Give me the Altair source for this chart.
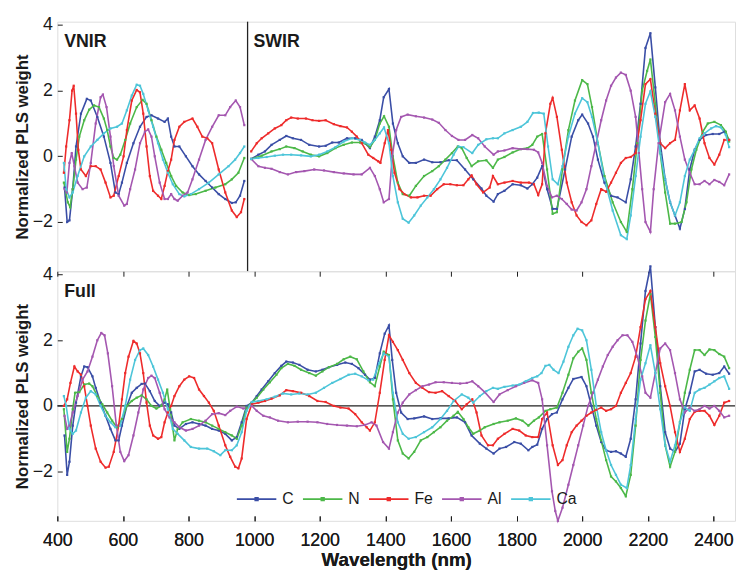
import altair as alt
import pandas as pd

FONT = "Liberation Sans"
ELEMENTS = ["C", "N", "Fe", "Al", "Ca"]
COLORS = ["#3a4ea6", "#4cb848", "#ee2b2b", "#a457b0", "#4dc5d9"]
X_TICKS = [400, 600, 800, 1000, 1200, 1400, 1600, 1800, 2000, 2200, 2400]
Y_TICKS = [-2, 0, 2, 4]
X_DOMAIN = [400, 2466]
Y_DOMAIN = [-3.5, 4.1]
DIVIDER = [980]
ZERO = [0]

PANEL_LABELS = ["VNIR", "SWIR"]
PANEL_LABEL_X = [421, 998]
PANEL_LABEL_Y = [3.48, 3.48]
FULL_LABEL = ["Full"]
FULL_LABEL_X = [421]
FULL_LABEL_Y = [3.48]

# ---- VNIR model (top panel, left) ----
VNIR_C = [(422,-0.95),(430,-2.0),(437,-1.95),(447,-1.0),(457,0.3),(472,1.3),(490,1.75),(502,1.7),(522,1.2),(542,0.6),(562,-0.2),(577,-1.1),(587,-1.15),(597,-0.8),(612,-0.2),(632,0.4),(652,0.9),(672,1.2),(687,1.25),(707,1.15),(727,1.05),(737,1.15),(747,0.6),(757,0.3),(772,0.3),(792,0.0),(812,-0.3),(832,-0.55),(852,-0.75),(872,-0.95),(892,-1.15),(912,-1.3),(932,-1.42),(944,-1.4),(957,-1.2),(970,-0.75)]
VNIR_N = [(420,-0.8),(432,-1.4),(439,-1.55),(447,-1.0),(457,-0.1),(467,0.6),(482,1.1),(497,1.42),(512,1.55),(527,1.5),(542,1.15),(552,0.8),(562,0.3),(572,-0.05),(582,-0.1),(592,0.05),(607,0.5),(622,1.0),(642,1.5),(660,1.72),(672,1.6),(687,1.1),(702,0.6),(717,0.2),(732,-0.2),(747,-0.6),(762,-0.9),(782,-1.1),(802,-1.18),(822,-1.15),(852,-1.05),(882,-0.95),(912,-0.85),(932,-0.7),(952,-0.5),(970,-0.05)]
VNIR_FE = [(420,-0.5),(427,0.3),(437,1.1),(445,2.0),(450,2.15),(457,1.3),(464,0.2),(472,-0.4),(487,-0.6),(502,-0.3),(517,-0.3),(532,-0.4),(547,-0.8),(562,-1.25),(572,-1.2),(587,-0.6),(602,0.0),(612,0.8),(627,1.7),(642,2.02),(652,1.95),(662,1.3),(672,0.3),(682,-0.6),(692,-1.05),(707,-1.2),(717,-1.3),(727,-0.9),(737,-0.45),(747,-0.1),(757,0.5),(772,0.9),(787,1.05),(812,1.15),(827,0.9),(842,0.6),(857,0.55),(872,0.4),(892,-0.4),(912,-1.1),(932,-1.65),(947,-1.85),(960,-1.7),(970,-1.3)]
VNIR_AL = [(422,-1.0),(429,-1.1),(437,-0.2),(444,0.1),(452,-0.3),(462,-0.8),(477,-1.0),(490,-0.95),(502,-0.2),(517,1.0),(532,1.8),(539,1.88),(550,1.5),(562,0.6),(572,-0.3),(587,-1.2),(604,-1.5),(612,-1.45),(622,-1.0),(637,-0.4),(652,0.4),(667,0.75),(677,0.82),(687,0.6),(697,0.0),(712,-0.8),(727,-1.3),(737,-1.3),(747,-1.15),(757,-1.3),(767,-1.35),(782,-1.2),(797,-1.1),(812,-0.7),(832,-0.1),(852,0.5),(872,0.9),(892,1.25),(912,1.25),(927,1.5),(944,1.7),(957,1.5),(970,0.95)]
VNIR_CA = [(420,-0.2),(427,-1.0),(437,-1.25),(447,-1.1),(462,-0.6),(482,0.0),(502,0.3),(522,0.5),(542,0.7),(562,0.85),(582,0.9),(597,1.0),(612,1.4),(627,1.85),(642,2.18),(652,2.15),(662,1.9),(677,1.4),(692,0.9),(707,0.4),(722,-0.1),(737,-0.5),(752,-0.85),(772,-1.15),(787,-1.22),(807,-1.15),(832,-1.0),(862,-0.8),(892,-0.55),(922,-0.3),(942,-0.1),(957,0.1),(970,0.3)]

# ---- SWIR model (top panel, right) ----
SWIR_C = [(991,-0.08),(1013,0.05),(1033,0.15),(1053,0.35),(1078,0.5),(1098,0.62),(1118,0.55),(1143,0.5),(1168,0.35),(1198,0.3),(1218,0.32),(1238,0.42),(1258,0.42),(1283,0.55),(1308,0.55),(1328,0.5),(1338,0.4),(1353,0.25),(1368,0.6),(1383,1.1),(1395,1.8),(1411,2.05),(1423,1.0),(1438,0.4),(1453,0.0),(1473,-0.2),(1493,-0.2),(1518,-0.1),(1543,-0.18),(1568,-0.18),(1593,-0.12),(1618,-0.12),(1643,-0.4),(1668,-0.7),(1693,-0.98),(1708,-1.2),(1730,-1.38),(1743,-1.15),(1763,-1.05),(1788,-0.85),(1813,-0.88),(1833,-0.98),(1848,-0.85),(1863,-0.65),(1878,-0.3),(1893,-1.0),(1910,-1.6),(1923,-1.6),(1948,-0.4),(1968,0.6),(1988,1.1),(2000,1.27),(2018,1.0),(2033,0.6),(2048,-0.1),(2068,-0.8),(2088,-1.2),(2108,-1.25),(2133,-1.4),(2148,-0.7),(2163,0.3),(2178,1.6),(2193,3.3),(2208,3.75),(2223,2.1),(2238,0.4),(2253,-0.7),(2268,-1.4),(2283,-1.8),(2298,-2.2),(2313,-1.6),(2328,-0.4),(2343,0.2),(2358,0.5),(2378,0.65),(2398,0.68),(2418,0.68),(2433,0.75),(2448,0.5)]
SWIR_N = [(991,-0.08),(1023,0.02),(1053,0.15),(1078,0.22),(1098,0.3),(1123,0.25),(1148,0.15),(1173,0.05),(1198,0.0),(1223,0.1),(1248,0.25),(1273,0.35),(1298,0.42),(1323,0.42),(1338,0.4),(1353,0.28),(1368,0.5),(1383,1.0),(1396,1.22),(1411,0.9),(1423,0.0),(1438,-0.8),(1453,-1.15),(1473,-1.2),(1493,-0.9),(1518,-0.6),(1543,-0.45),(1563,-0.3),(1583,-0.1),(1603,0.1),(1621,0.3),(1633,0.25),(1648,-0.05),(1663,-0.3),(1683,-0.15),(1708,-0.12),(1728,-0.35),(1743,-0.1),(1763,-0.02),(1788,0.12),(1813,0.22),(1833,0.25),(1848,0.35),(1863,0.6),(1878,0.68),(1893,-0.4),(1910,-1.75),(1923,-1.7),(1940,-0.4),(1958,0.8),(1978,1.7),(2000,2.32),(2016,2.2),(2030,1.5),(2048,0.4),(2068,-0.6),(2093,-1.4),(2118,-2.0),(2136,-2.3),(2153,-1.0),(2168,0.4),(2183,2.0),(2198,2.6),(2208,2.95),(2223,1.6),(2238,0.1),(2253,-1.1),(2268,-2.05),(2283,-2.05),(2303,-2.0),(2318,-1.4),(2333,-0.4),(2348,0.2),(2368,0.75),(2383,1.0),(2403,1.05),(2423,0.95),(2438,0.75),(2448,0.45)]
SWIR_FE = [(991,0.15),(1008,0.4),(1023,0.55),(1043,0.7),(1063,0.85),(1083,0.95),(1098,1.1),(1113,1.18),(1133,1.15),(1158,1.15),(1178,1.1),(1198,1.08),(1218,1.1),(1243,0.98),(1263,0.92),(1283,0.88),(1298,0.75),(1313,0.6),(1328,0.4),(1348,0.05),(1363,-0.05),(1378,-0.15),(1385,-0.2),(1398,0.4),(1408,0.8),(1418,0.2),(1428,-0.5),(1443,-1.0),(1458,-1.15),(1478,-1.25),(1498,-1.25),(1518,-1.2),(1538,-1.2),(1558,-1.0),(1578,-0.85),(1598,-0.85),(1618,-0.88),(1638,-0.88),(1653,-0.7),(1663,-0.58),(1678,-0.85),(1698,-1.1),(1718,-0.95),(1728,-0.6),(1743,-0.85),(1763,-0.8),(1788,-0.75),(1813,-0.8),(1838,-0.8),(1853,-0.85),(1866,-1.18),(1878,-0.85),(1888,0.7),(1903,1.6),(1910,1.78),(1923,1.2),(1938,0.2),(1953,-0.8),(1968,-1.4),(1983,-1.8),(1998,-2.0),(2013,-2.1),(2028,-1.95),(2043,-1.45),(2058,-1.0),(2073,-1.08),(2088,-0.8),(2103,-0.5),(2118,-0.2),(2133,-0.05),(2148,-0.02),(2163,0.1),(2178,1.1),(2193,2.2),(2208,2.35),(2223,1.3),(2238,0.4),(2253,0.25),(2268,0.4),(2283,0.5),(2298,1.4),(2313,2.2),(2328,1.4),(2343,1.55),(2358,1.15),(2373,0.4),(2388,-0.05),(2403,-0.25),(2418,0.05),(2433,0.5),(2448,0.5)]
SWIR_AL = [(991,-0.08),(1013,-0.3),(1033,-0.35),(1053,-0.38),(1078,-0.48),(1103,-0.55),(1128,-0.48),(1153,-0.45),(1183,-0.4),(1213,-0.43),(1243,-0.48),(1273,-0.52),(1303,-0.55),(1328,-0.55),(1353,-0.35),(1368,-0.6),(1383,-1.0),(1395,-1.4),(1411,-1.3),(1421,0.0),(1433,0.8),(1448,1.2),(1468,1.27),(1493,1.22),(1518,1.18),(1543,1.12),(1563,1.02),(1583,0.8),(1603,0.62),(1623,0.5),(1643,0.5),(1665,0.65),(1683,0.55),(1703,0.3),(1730,0.05),(1743,0.15),(1763,0.18),(1788,0.25),(1813,0.22),(1833,0.22),(1853,0.2),(1866,0.12),(1878,-0.2),(1893,-0.9),(1908,-1.25),(1923,-1.2),(1938,-1.3),(1953,-1.45),(1968,-1.62),(1983,-1.65),(1998,-1.4),(2013,-1.0),(2028,-0.3),(2043,0.4),(2058,1.1),(2073,1.7),(2088,2.15),(2103,2.4),(2118,2.55),(2133,2.48),(2148,2.0),(2163,1.2),(2173,0.1),(2183,-1.0),(2193,-2.0),(2208,-2.3),(2218,-1.0),(2233,0.4),(2253,1.65),(2268,1.9),(2283,1.4),(2298,0.6),(2313,-0.1),(2328,-0.5),(2343,-0.85),(2358,-0.85),(2373,-0.75),(2388,-0.85),(2403,-0.72),(2418,-0.78),(2433,-0.88),(2448,-0.55)]
SWIR_CA = [(991,-0.08),(1013,-0.05),(1038,-0.02),(1063,0.02),(1088,0.05),(1113,0.05),(1143,0.03),(1173,0.0),(1198,0.05),(1223,0.15),(1248,0.28),(1273,0.45),(1298,0.55),(1323,0.5),(1338,0.42),(1353,0.35),(1368,0.5),(1383,0.7),(1396,0.88),(1411,0.4),(1423,-0.6),(1438,-1.4),(1453,-1.9),(1471,-2.02),(1488,-1.8),(1508,-1.5),(1528,-1.25),(1548,-1.0),(1568,-0.7),(1588,-0.35),(1608,0.05),(1623,0.3),(1638,0.28),(1665,0.1),(1683,0.35),(1708,0.52),(1728,0.55),(1743,0.55),(1763,0.7),(1788,0.8),(1813,0.9),(1833,1.05),(1850,1.32),(1868,1.33),(1883,1.3),(1896,0.3),(1910,-0.7),(1926,-0.85),(1940,-0.3),(1958,0.6),(1978,1.3),(2000,1.77),(2016,1.65),(2030,1.2),(2048,0.4),(2068,-0.7),(2093,-1.65),(2118,-2.4),(2136,-2.52),(2148,-1.8),(2163,-0.6),(2178,0.6),(2193,1.6),(2208,1.98),(2223,1.2),(2238,0.1),(2253,-0.7),(2268,-1.4),(2283,-1.8),(2298,-1.4),(2313,-0.6),(2328,-0.1),(2343,0.2),(2358,0.55),(2373,0.7),(2393,0.85),(2408,0.92),(2423,0.88),(2438,0.65),(2448,0.28)]

# ---- Full-range model (bottom panel) ----
FULL_C = [(422,-0.9),(430,-2.1),(437,-1.7),(447,-0.6),(457,0.1),(472,0.9),(482,1.2),(492,1.18),(507,0.9),(517,0.55),(532,0.1),(547,-0.3),(562,-0.7),(577,-1.05),(587,-1.05),(597,-0.6),(612,0.0),(627,0.4),(642,0.55),(657,0.67),(667,0.68),(682,0.45),(697,0.15),(712,0.0),(727,0.1),(737,0.05),(747,-0.2),(757,-0.6),(772,-0.7),(792,-0.55),(812,-0.5),(832,-0.55),(852,-0.6),(872,-0.7),(892,-0.75),(912,-0.85),(932,-1.05),(947,-0.95),(962,-0.5),(977,0.0),(993,0.1),(1008,0.3),(1023,0.5),(1043,0.75),(1063,1.0),(1083,1.22),(1098,1.35),(1118,1.32),(1138,1.25),(1163,1.1),(1188,1.05),(1208,1.1),(1228,1.18),(1253,1.25),(1278,1.32),(1298,1.28),(1318,1.15),(1338,0.95),(1353,0.8),(1368,0.85),(1383,1.6),(1398,2.2),(1411,2.45),(1421,1.4),(1433,0.4),(1448,-0.2),(1468,-0.4),(1488,-0.38),(1518,-0.32),(1543,-0.4),(1568,-0.38),(1593,-0.38),(1618,-0.35),(1643,-0.5),(1663,-0.9),(1688,-1.15),(1708,-1.3),(1730,-1.45),(1748,-1.3),(1768,-1.25),(1793,-1.1),(1813,-1.15),(1836,-1.35),(1848,-1.25),(1863,-1.18),(1878,-0.7),(1893,-0.4),(1908,-0.25),(1923,-0.2),(1940,0.2),(1958,0.55),(1973,0.82),(1998,0.88),(2013,0.6),(2028,0.0),(2043,-0.6),(2058,-1.1),(2073,-1.35),(2088,-1.4),(2103,-1.38),(2118,-1.45),(2133,-1.55),(2148,-1.0),(2163,0.2),(2178,1.9),(2193,3.5),(2208,4.25),(2223,2.4),(2238,0.6),(2253,-0.8),(2268,-1.3),(2283,-1.4),(2298,-1.15),(2313,-0.1),(2328,0.4),(2343,1.05),(2358,1.1),(2378,0.98),(2398,0.95),(2418,1.0),(2433,1.2),(2448,0.98)]
FULL_N = [(420,-0.1),(430,-1.4),(437,-1.0),(447,-0.1),(454,0.4),(467,0.42),(482,0.65),(497,0.68),(507,0.6),(522,0.3),(537,0.05),(552,-0.2),(567,-0.45),(582,-0.65),(597,-0.4),(612,0.0),(627,0.15),(642,0.25),(657,0.32),(672,0.2),(687,0.0),(702,-0.08),(717,0.0),(727,0.2),(735,0.5),(744,-0.1),(757,-1.05),(767,-0.7),(782,-0.5),(807,-0.4),(832,-0.45),(852,-0.5),(872,-0.6),(892,-0.7),(912,-0.8),(932,-0.9),(947,-1.0),(962,-0.6),(977,-0.05),(993,0.1),(1008,0.25),(1028,0.5),(1048,0.72),(1068,0.95),(1083,1.15),(1103,1.28),(1123,1.22),(1143,1.1),(1168,1.0),(1188,0.92),(1208,1.05),(1228,1.18),(1253,1.28),(1273,1.42),(1293,1.5),(1313,1.42),(1333,1.05),(1353,0.72),(1368,0.6),(1383,1.2),(1395,1.65),(1411,1.55),(1423,0.2),(1438,-1.05),(1453,-1.45),(1471,-1.6),(1488,-1.4),(1508,-1.05),(1528,-0.95),(1548,-0.8),(1568,-0.65),(1588,-0.45),(1608,-0.3),(1621,-0.18),(1638,-0.4),(1653,-0.65),(1668,-0.85),(1688,-0.75),(1703,-0.65),(1730,-0.55),(1748,-0.5),(1773,-0.45),(1798,-0.38),(1818,-0.45),(1836,-0.6),(1853,-0.45),(1868,-0.35),(1888,-0.15),(1903,-0.1),(1923,-0.05),(1940,0.4),(1958,0.95),(1973,1.45),(1988,1.65),(2000,1.75),(2013,1.4),(2028,0.4),(2043,-0.4),(2058,-1.05),(2073,-1.65),(2088,-2.15),(2103,-2.3),(2118,-2.5),(2133,-2.75),(2148,-2.1),(2163,-0.6),(2178,1.4),(2193,2.6),(2208,3.4),(2223,2.1),(2238,0.4),(2253,-1.2),(2268,-1.85),(2283,-1.4),(2298,-0.5),(2313,0.4),(2328,1.1),(2343,1.7),(2358,1.7),(2373,1.55),(2388,1.72),(2403,1.7),(2418,1.58),(2433,1.5),(2448,1.15)]
FULL_FE = [(420,0.0),(430,0.2),(440,0.7),(452,1.2),(462,1.05),(472,0.95),(482,0.6),(492,0.0),(502,-0.6),(517,-1.3),(532,-1.7),(547,-1.88),(557,-1.85),(572,-1.4),(587,-0.6),(597,0.2),(607,1.0),(617,1.5),(632,1.98),(642,1.9),(652,1.6),(662,1.0),(672,0.1),(682,-0.6),(692,-0.9),(707,-1.0),(717,-0.95),(727,-0.5),(737,-0.2),(747,0.0),(757,0.3),(772,0.6),(787,0.8),(802,0.9),(817,0.85),(832,0.5),(847,0.3),(862,0.1),(877,-0.15),(892,-0.6),(912,-1.2),(927,-1.55),(942,-1.85),(952,-1.9),(962,-1.6),(977,-0.4),(993,0.05),(1013,0.1),(1033,0.15),(1053,0.22),(1078,0.32),(1098,0.48),(1118,0.45),(1143,0.4),(1168,0.3),(1193,0.15),(1218,0.12),(1243,0.0),(1263,-0.05),(1288,-0.08),(1308,-0.25),(1328,-0.5),(1343,-0.65),(1353,-0.75),(1368,-0.5),(1383,0.4),(1398,1.4),(1411,2.15),(1423,1.95),(1438,1.7),(1453,1.4),(1473,1.0),(1493,0.7),(1513,0.55),(1533,0.42),(1553,0.4),(1573,0.45),(1593,0.3),(1613,0.15),(1633,-0.1),(1648,0.05),(1665,0.2),(1678,-0.2),(1693,-0.9),(1713,-1.2),(1728,-1.2),(1743,-1.0),(1763,-0.85),(1788,-0.7),(1808,-0.75),(1828,-0.9),(1848,-0.95),(1866,-0.95),(1878,-0.4),(1893,-0.2),(1910,-1.2),(1926,-1.8),(1940,-1.65),(1953,-1.2),(1968,-0.8),(1983,-0.6),(1998,-0.45),(2013,-0.3),(2028,-0.2),(2043,-0.12),(2058,-0.05),(2073,-0.15),(2088,-0.1),(2103,0.0),(2118,0.4),(2133,0.7),(2148,1.0),(2163,1.5),(2178,2.4),(2193,3.25),(2208,3.5),(2223,2.4),(2238,1.3),(2253,0.6),(2268,0.0),(2283,-0.8),(2298,-1.4),(2313,-1.0),(2328,-0.4),(2343,-0.18),(2358,-0.15),(2373,-0.15),(2388,-0.3),(2403,-0.58),(2418,-0.3),(2433,0.1),(2448,0.15)]
FULL_AL = [(422,-0.3),(430,-0.7),(437,-0.6),(447,-0.2),(462,0.3),(477,0.8),(492,1.05),(507,1.5),(522,2.0),(534,2.22),(544,2.15),(554,1.6),(567,0.6),(580,-0.6),(592,-1.4),(604,-1.68),(617,-1.5),(632,-0.9),(647,-0.2),(662,0.5),(677,0.85),(687,0.92),(697,0.85),(712,0.4),(727,-0.1),(742,-0.35),(757,-0.5),(772,-0.65),(792,-0.75),(812,-0.7),(832,-0.6),(852,-0.45),(872,-0.25),(892,-0.22),(912,-0.28),(927,-0.15),(947,-0.02),(967,-0.08),(993,0.0),(1008,-0.15),(1028,-0.3),(1048,-0.35),(1073,-0.45),(1103,-0.5),(1133,-0.48),(1163,-0.48),(1193,-0.5),(1223,-0.55),(1253,-0.58),(1283,-0.6),(1313,-0.62),(1338,-0.58),(1358,-0.5),(1373,-0.6),(1393,-1.1),(1411,-1.3),(1423,-0.8),(1438,-0.2),(1453,0.1),(1473,0.35),(1493,0.48),(1513,0.6),(1533,0.65),(1553,0.72),(1578,0.72),(1603,0.7),(1628,0.68),(1648,0.7),(1665,0.75),(1683,0.6),(1703,0.42),(1730,0.12),(1748,0.35),(1773,0.48),(1798,0.6),(1823,0.7),(1848,0.78),(1866,0.7),(1878,0.2),(1893,-1.2),(1908,-2.6),(1918,-3.2),(1926,-3.5),(1940,-3.1),(1958,-2.4),(1973,-1.8),(1988,-1.2),(2003,-0.6),(2018,0.0),(2033,0.4),(2048,0.8),(2063,1.2),(2078,1.55),(2093,1.8),(2108,2.0),(2123,2.15),(2138,2.15),(2153,1.95),(2168,1.5),(2183,0.9),(2193,0.4),(2208,0.25),(2223,1.0),(2238,1.75),(2253,1.9),(2268,1.7),(2283,1.0),(2298,0.2),(2313,-0.2),(2328,-0.05),(2343,-0.15),(2358,-0.1),(2373,0.0),(2388,-0.08),(2403,0.0),(2418,-0.15),(2433,-0.35),(2448,-0.3)]
FULL_CA = [(420,0.3),(427,0.0),(437,-0.7),(447,-0.85),(457,-0.75),(472,-0.2),(487,0.25),(502,0.45),(517,0.35),(532,0.0),(547,-0.3),(562,-0.5),(577,-0.65),(592,-0.6),(607,0.0),(622,0.8),(637,1.4),(652,1.7),(662,1.75),(677,1.55),(692,1.2),(707,0.8),(722,0.4),(737,-0.1),(752,-0.7),(767,-0.85),(787,-1.05),(807,-1.25),(832,-1.3),(857,-1.3),(877,-1.38),(897,-1.5),(912,-1.35),(932,-1.35),(947,-1.2),(962,-0.8),(977,-0.15),(993,0.12),(1013,0.15),(1038,0.2),(1063,0.28),(1088,0.38),(1113,0.35),(1138,0.38),(1163,0.35),(1188,0.4),(1213,0.55),(1238,0.7),(1263,0.82),(1288,0.95),(1308,0.98),(1328,0.9),(1348,0.78),(1363,0.8),(1381,1.3),(1395,1.6),(1411,1.5),(1423,0.4),(1438,-0.5),(1453,-0.85),(1471,-1.0),(1493,-0.95),(1518,-0.8),(1543,-0.65),(1568,-0.4),(1588,-0.15),(1608,0.15),(1633,0.35),(1653,0.25),(1668,0.1),(1688,0.3),(1708,0.45),(1728,0.55),(1743,0.52),(1763,0.58),(1788,0.62),(1808,0.65),(1828,0.75),(1848,0.85),(1863,0.9),(1876,1.0),(1888,1.22),(1900,1.25),(1913,1.1),(1928,1.0),(1943,1.35),(1958,1.8),(1973,2.15),(1986,2.35),(2000,2.3),(2013,2.0),(2028,1.1),(2043,0.0),(2058,-0.8),(2073,-1.35),(2088,-1.8),(2103,-2.1),(2118,-2.4),(2136,-2.5),(2148,-1.8),(2163,-0.4),(2178,0.8),(2193,1.3),(2208,1.85),(2223,1.0),(2238,-0.1),(2253,-1.2),(2268,-1.7),(2283,-1.2),(2298,-0.5),(2313,-0.05),(2328,-0.15),(2343,0.4),(2358,0.5),(2373,0.55),(2388,0.65),(2403,0.75),(2418,0.85),(2433,0.9),(2448,0.52)]

SERIES = {
    "VNIR": [VNIR_C, VNIR_N, VNIR_FE, VNIR_AL, VNIR_CA],
    "SWIR": [SWIR_C, SWIR_N, SWIR_FE, SWIR_AL, SWIR_CA],
    "Full": [FULL_C, FULL_N, FULL_FE, FULL_AL, FULL_CA],
}

rows = []
for region, lists in SERIES.items():
    for k, (el, pts) in enumerate(zip(ELEMENTS, lists)):
        for i, (w, v) in enumerate(pts):
            rows.append({"wl": w, "val": v, "element": el, "order": k,
                         "region": region, "idx": i})
df = pd.DataFrame(rows)
df_top = df[df.region != "Full"]
df_bot = df[df.region == "Full"]

TXT = "#1a1a1a"
LEGEND_SYMBOL = "M-1,0H1M-0.07,-0.07H0.07V0.07H-0.07Z"

xscale = alt.Scale(domain=X_DOMAIN, nice=False, zero=False)
yscale = alt.Scale(domain=Y_DOMAIN, nice=False, zero=False)

Y_AXIS = alt.Axis(values=Y_TICKS, title="Normalized PLS weight", orient="left",
                  offset=-5, tickSize=5, domain=False, grid=False,
                  labelFont=FONT, labelFontSize=18, labelColor=TXT, labelPadding=5,
                  tickColor=TXT, titleFont=FONT, titleFontSize=17,
                  titleFontWeight="bold", titleColor=TXT, titlePadding=1)

BOTTOM_AXIS = alt.Axis(values=X_TICKS, format="d", title="Wavelength (nm)", orient="bottom",
                       offset=-5, tickSize=5, domain=False, grid=False, labelFlush=False,
                       labelFont=FONT, labelFontSize=18, labelColor=TXT, labelPadding=11,
                       tickColor=TXT, titleFont=FONT, titleFontSize=19,
                       titleFontWeight="bold", titleColor=TXT, titlePadding=1)
TOP_AXIS = alt.Axis(values=X_TICKS, title=None, orient="top", offset=-5, tickSize=5,
                    domain=False, grid=False, labels=False, tickColor=TXT)


def color_enc(show_legend):
    if show_legend:
        lg = alt.Legend(title=None, orient="none", legendX=181, legendY=210,
                        direction="horizontal", symbolType=LEGEND_SYMBOL,
                        symbolSize=1600, symbolStrokeWidth=1.6,
                        labelFont=FONT, labelFontSize=16, labelColor=TXT,
                        labelOffset=5, columnPadding=5, padding=0)
    else:
        lg = None
    return alt.Color("element:N", scale=alt.Scale(domain=ELEMENTS, range=COLORS),
                     sort=ELEMENTS, legend=lg)


def series_layers(data, show_legend, x_axis, top_axis):
    line = alt.Chart(data).mark_line(strokeWidth=1.6, clip=False).encode(
        x=alt.X("wl:Q", scale=xscale, axis=x_axis),
        y=alt.Y("val:Q", scale=yscale, axis=Y_AXIS),
        color=color_enc(show_legend),
        detail="region:N",
        order="idx:Q",
    )
    pts = alt.Chart(data).mark_point(filled=True, size=5, opacity=1, shape="square",
                                     clip=False).encode(
        x=alt.X("wl:Q", scale=xscale, axis=top_axis),
        y=alt.Y("val:Q", scale=yscale, axis=Y_AXIS),
        color=color_enc(show_legend),
    )
    return line, pts


labels_top = pd.DataFrame({"label": PANEL_LABELS, "wl": PANEL_LABEL_X, "val": PANEL_LABEL_Y})
labels_bot = pd.DataFrame({"label": FULL_LABEL, "wl": FULL_LABEL_X, "val": FULL_LABEL_Y})


def label_layer(d, x_axis):
    return alt.Chart(d).mark_text(align="left", baseline="middle", font=FONT,
                                  fontSize=18, fontWeight="bold", color=TXT).encode(
        x=alt.X("wl:Q", scale=xscale, axis=x_axis),
        y=alt.Y("val:Q", scale=yscale, axis=Y_AXIS),
        text="label:N",
    )


# top panel
l1, p1 = series_layers(df_top, False, None, None)
divider = alt.Chart(pd.DataFrame({"wl": DIVIDER})).mark_rule(
    color="#222", strokeWidth=1.3).encode(x=alt.X("wl:Q", scale=xscale, axis=None))
top = alt.layer(l1, p1, divider, label_layer(labels_top, None)).properties(
    width=687, height=253)

# bottom panel
l2, p2 = series_layers(df_bot, True, BOTTOM_AXIS, TOP_AXIS)
zero = alt.Chart(pd.DataFrame({"val": ZERO})).mark_rule(
    color="#222", strokeWidth=1.3).encode(y=alt.Y("val:Q", scale=yscale, axis=Y_AXIS))
bottom = alt.layer(zero, l2, p2, label_layer(labels_bot, BOTTOM_AXIS)).resolve_axis(
    x="independent").properties(width=687, height=253)

chart = alt.vconcat(top, bottom, spacing=0, bounds="flush").resolve_scale(
    color="independent").properties(
    padding={"left": 4, "top": 3, "right": 0, "bottom": 0}
).configure_view(stroke="#222", strokeWidth=1.3).configure(background="white")

chart.save("out.html", embed_options={"renderer": "svg", "actions": False})
